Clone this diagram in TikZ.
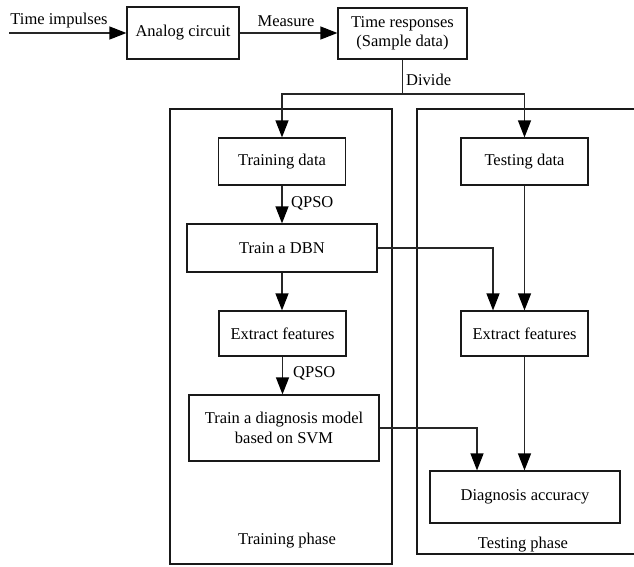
\documentclass[tikz,border=0pt]{standalone}
\usepackage{fontspec}
\setmainfont{Liberation Serif}
\usetikzlibrary{arrows.meta}
\begin{document}
\begin{tikzpicture}[x=1pt,y=-1pt,
  font=\fontsize{16.5}{19.5}\selectfont,
  box/.style={draw=black!90, line width=1.2pt, align=center, inner sep=0pt},
  flow/.style={draw=black!85, line width=1.2pt, -{Triangle[length=17pt,width=13pt,black]}},
  link/.style={draw=black!85, line width=1.2pt},
  phase/.style={draw=black!90, line width=1.2pt},
  lbl/.style={inner sep=0pt}]
\useasboundingbox (0,0) rectangle (634,566);

% phase frames
\node[phase, minimum width=222pt, minimum height=455pt, inner sep=0pt] (trainph) at (281,336.5) {};
\draw[phase] (634,109) -- (417,109) -- (417,554) -- (634,554);
\coordinate (testph) at (417,109);

% top row
\node[box, minimum width=112pt, minimum height=52pt] (analog) at (183,33) {Analog circuit};
\node[box, minimum width=129pt, minimum height=51pt] (tr) at (402.5,33.5) {Time responses\\(Sample data)};

% training column
\node[box, minimum width=127pt, minimum height=47pt] (td) at (282,161.5) {Training data};
\node[box, minimum width=190pt, minimum height=48pt] (dbn) at (282,248) {Train a DBN};
\node[box, minimum width=127pt, minimum height=45pt] (ef1) at (282.5,333.5) {Extract features};
\node[box, minimum width=190pt, minimum height=66pt] (svm) at (284,428) {Train a diagnosis model\\based on SVM};

% testing column
\node[box, minimum width=127pt, minimum height=47pt] (ted) at (524.5,161.5) {Testing data};
\node[box, minimum width=127pt, minimum height=45pt] (ef2) at (524.5,333.5) {Extract features};
\node[box, minimum width=190pt, minimum height=52pt] (acc) at (525,497) {Diagnosis accuracy};

% labels
\node[lbl] (inlbl) at (59,21) {Time impulses};
\node[lbl] (measlbl) at (286,21) {Measure};
\node[lbl, anchor=west] (divlbl) at (406,80) {Divide};
\node[lbl, anchor=west] (q1) at (291,203) {QPSO};
\node[lbl, anchor=west] (q2) at (293,373) {QPSO};
\node[lbl] (trainlbl) at (287,541) {Training phase};
\node[lbl] (testlbl) at (523,545) {Testing phase};

% connectors
\coordinate (in) at (9,33);
\coordinate (split) at (402.5,94);
\draw[flow] (in) -- (analog.west);
\draw[flow] (analog.east) -- (tr.west |- analog.east);
\draw[link] (tr.south) -- (split);
\draw[flow] (split) -| (td.north);
\draw[flow] (split) -| (ted.north);
\draw[flow] (td.south) -- (dbn.north);
\draw[flow] (dbn.south) -- (dbn.south |- ef1.north);
\draw[flow] (ef1.south) -- (ef1.south |- svm.north);
\draw[flow] (ted.south) -- (ef2.north);
\draw[flow] (dbn.east) -| ([xshift=-31.5pt]ef2.north);
\draw[flow] (ef2.south) -- (ef2.south |- acc.north);
\draw[flow] (svm.east) -| ([xshift=-48pt]acc.north);
\end{tikzpicture}
\end{document}
